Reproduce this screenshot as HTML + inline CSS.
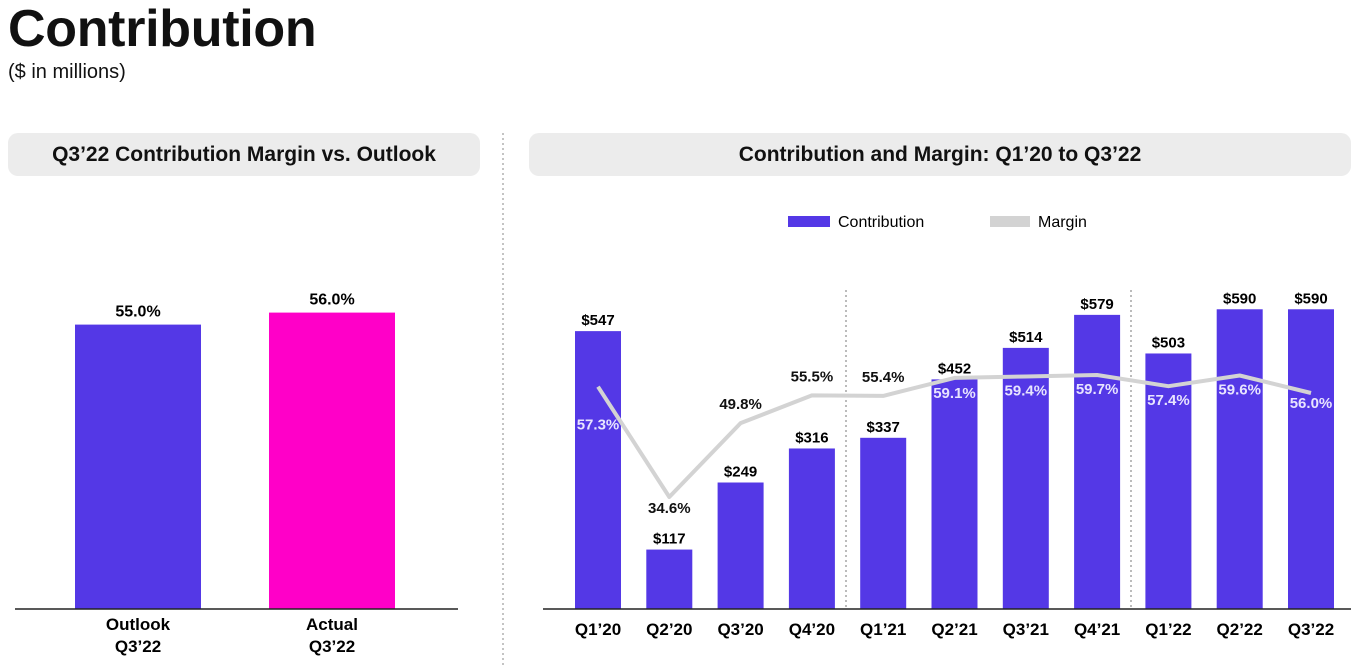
<!DOCTYPE html>
<html><head><meta charset="utf-8"><style>
body{margin:0;width:1366px;height:666px;background:#fff;font-family:"Liberation Sans",sans-serif;overflow:hidden;position:relative;color:#111}
.hdr{position:absolute;background:#ececec;border-radius:10px;height:43px;top:133px;font-weight:bold;font-size:21px;text-align:center;line-height:43px}
</style></head><body>
<div style="position:absolute;left:8px;top:-1px;font-size:52px;font-weight:bold;letter-spacing:-0.3px">Contribution</div>
<div style="position:absolute;left:8px;top:61px;font-size:20px">($ in millions)</div>
<div class="hdr" style="left:8px;width:472px">Q3’22 Contribution Margin vs. Outlook</div>
<div class="hdr" style="left:529px;width:822px">Contribution and Margin: Q1’20 to Q3’22</div>
<svg width="1366" height="666" style="position:absolute;left:0;top:0">
<line x1="503" y1="133" x2="503" y2="666" stroke="#888" stroke-dasharray="2,3"/>
<g id="left"></g>
<g id="right"></g>
</svg>
<script>
const leftCats=["Outlook|Q3’22","Actual|Q3’22"];
const leftVals=[55.0,56.0];
const leftColors=["#5438e6","#ff00c8"];
const cats=["Q1’20","Q2’20","Q3’20","Q4’20","Q1’21","Q2’21","Q3’21","Q4’21","Q1’22","Q2’22","Q3’22"];
const contrib=[547,117,249,316,337,452,514,579,503,590,590];
const margin=[57.3,34.6,49.8,55.5,55.4,59.1,59.4,59.7,57.4,59.6,56.0];
const NS="http://www.w3.org/2000/svg";
function mk(p,t,a,txt){const e=document.createElementNS(NS,t);for(const k in a)e.setAttribute(k,a[k]);if(txt!==undefined)e.textContent=txt;p.appendChild(e);return e;}
const L=document.getElementById('left'),R=document.getElementById('right');
const base=609;
const ly=v=>base-(v-31.3)*12;
const lx=i=>138+i*194;
leftVals.forEach((v,i)=>{
 const r=mk(L,'rect',{x:lx(i)-63,y:ly(v),width:126,height:base-ly(v),fill:leftColors[i]});
 
 
 const t=mk(L,'text',{x:lx(i),y:ly(v)-8,'text-anchor':'middle','font-size':16,'font-weight':'bold'},v.toFixed(1)+'%');
 
 
 leftCats[i].split('|').forEach((s,j)=>{const c=mk(L,'text',{x:lx(i),y:630+j*22,'text-anchor':'middle','font-size':17,'font-weight':'bold'},s);
 
 });
});
const la=mk(L,'line',{x1:15,x2:458,y1:base,y2:base,stroke:'#222','stroke-width':1.5});


const xr=i=>598+i*71.3;
const yb=v=>base-v*0.508;
const ym=m=>497-(m-34.6)*4.86;
[846,1131].forEach(x=>{const d=mk(R,'line',{x1:x,x2:x,y1:290,y2:609,stroke:'#777','stroke-dasharray':'2,3'});
 
 });
contrib.forEach((v,i)=>{
 const r=mk(R,'rect',{x:xr(i)-23,y:yb(v),width:46,height:base-yb(v),fill:'#5438e6'});
 
 
 const t=mk(R,'text',{x:xr(i),y:yb(v)-6,'text-anchor':'middle','font-size':15,'font-weight':'bold'},'$'+v);
 
 
 const c=mk(R,'text',{x:xr(i),y:635,'text-anchor':'middle','font-size':17,'font-weight':'bold'},cats[i]);
 
 
});
const ax=mk(R,'line',{x1:543,x2:1351,y1:base,y2:base,stroke:'#222','stroke-width':1.5});


const pl=mk(R,'polyline',{points:margin.map((m,i)=>xr(i)+','+ym(m)).join(' '),fill:'none',stroke:'#d3d3d3','stroke-width':4,'stroke-linejoin':'round'});


const offs=[43,16,-14,-14,-14,20,19,19,19,19,15];
margin.forEach((m,i)=>{
 const white=!(i>=1&&i<=4);
 const t=mk(R,'text',{x:xr(i),y:ym(m)+offs[i],'text-anchor':'middle','font-size':15,'font-weight':'bold',fill:white?'#e8e4ff':'#111'},m.toFixed(1)+'%');
 
 
});
const l1=mk(R,'rect',{x:788,y:216,width:42,height:11,fill:'#5438e6'});


const l2=mk(R,'text',{x:838,y:227,'font-size':16},'Contribution');


const l3=mk(R,'rect',{x:990,y:216,width:40,height:11,fill:'#d3d3d3'});


const l4=mk(R,'text',{x:1038,y:227,'font-size':16},'Margin');


</script>
</body></html>
